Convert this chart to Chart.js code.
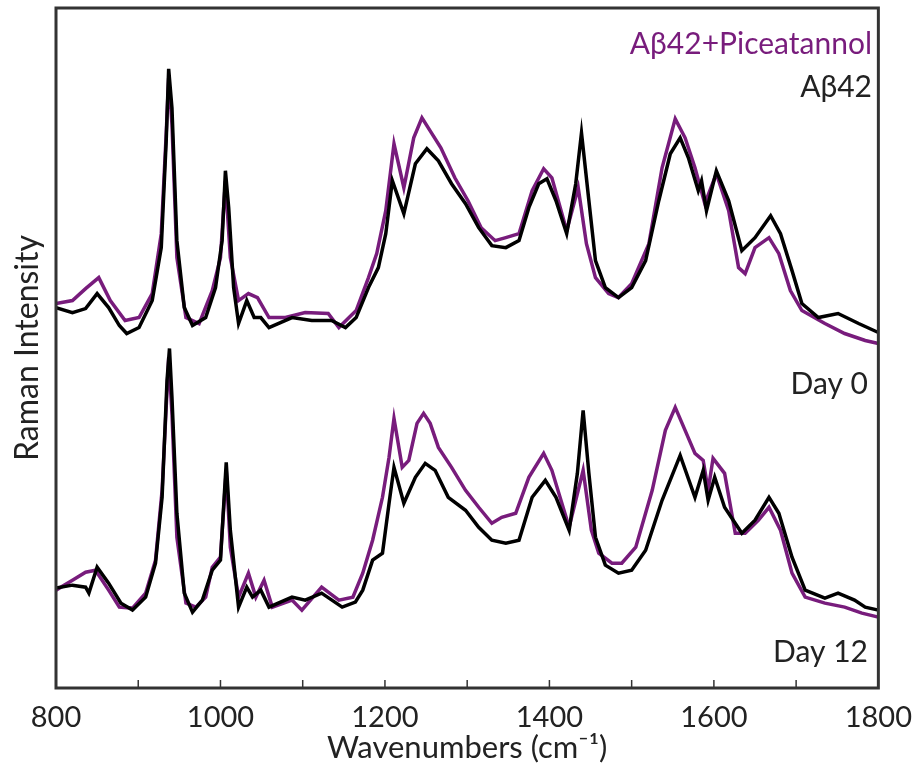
<!DOCTYPE html>
<html>
<head>
<meta charset="utf-8">
<script src="https://cdn.jsdelivr.net/npm/chart.js@4"></script>
<style>
  body { margin: 0; background: #fff; }
</style>
</head>
<body>
<canvas id="ramanChart" width="924" height="771"></canvas>
<script>
// wavenumber ticks (labels every 200, marks every 100)
const xMin = 800;
const xMax = 1800;
const tickStep = 100;

// Day 0, Aβ42 (black) - offset intensity
const day0AbWn = [800, 820, 836, 850, 864, 877, 886, 901, 917, 928, 934, 937, 941, 947, 956, 966, 982, 994, 1002, 1006, 1010, 1016, 1022, 1032, 1041, 1049, 1059, 1087, 1111, 1135, 1152, 1165, 1180, 1192, 1201, 1209, 1223, 1237, 1251, 1265, 1281, 1298, 1314, 1330, 1347, 1363, 1375, 1387, 1397, 1408, 1421, 1432, 1439, 1448, 1456, 1468, 1484, 1500, 1517, 1533, 1547, 1559, 1569, 1581, 1585, 1591, 1603, 1618, 1634, 1650, 1669, 1681, 1695, 1707, 1727, 1751, 1776, 1800];
const day0AbInt = [381, 376, 380, 395, 381, 363, 355, 361, 388, 441, 548, 620, 581, 448, 381, 363, 371, 401, 448, 518, 481, 401, 365, 388, 371, 371, 361, 371, 368, 368, 361, 371, 401, 421, 455, 508, 475, 525, 540, 528, 505, 485, 461, 443, 441, 448, 481, 505, 510, 488, 455, 505, 556, 488, 428, 401, 391, 401, 428, 488, 535, 551, 531, 498, 508, 478, 518, 488, 438, 451, 473, 455, 418, 385, 371, 375, 365, 356];

// Day 0, Aβ42+Piceatannol (purple)
const day0PiWn = [800, 820, 836, 852, 866, 884, 901, 917, 928, 934, 937, 941, 947, 958, 974, 990, 1000, 1006, 1012, 1022, 1034, 1045, 1059, 1079, 1103, 1131, 1144, 1165, 1180, 1190, 1201, 1211, 1223, 1235, 1245, 1255, 1268, 1285, 1301, 1317, 1334, 1347, 1363, 1379, 1393, 1403, 1421, 1435, 1445, 1456, 1472, 1484, 1500, 1521, 1537, 1553, 1565, 1577, 1589, 1603, 1618, 1630, 1638, 1650, 1667, 1679, 1693, 1707, 1735, 1759, 1784, 1800];
const day0PiInt = [385, 388, 400, 411, 388, 368, 371, 395, 455, 555, 611, 565, 431, 371, 365, 398, 431, 508, 431, 388, 395, 391, 371, 371, 376, 375, 361, 378, 411, 435, 478, 545, 501, 551, 571, 558, 541, 511, 488, 461, 448, 451, 455, 498, 520, 511, 458, 501, 445, 411, 395, 391, 405, 445, 521, 570, 551, 521, 485, 515, 478, 421, 415, 441, 451, 435, 398, 378, 365, 355, 348, 345];

// Day 12, Aβ42 (black)
const day12AbWn = [800, 820, 836, 840, 850, 864, 879, 893, 909, 921, 929, 935, 938, 941, 947, 956, 966, 978, 990, 1000, 1007, 1012, 1022, 1032, 1039, 1049, 1059, 1087, 1103, 1123, 1148, 1164, 1173, 1185, 1197, 1205, 1211, 1223, 1237, 1249, 1261, 1277, 1298, 1314, 1330, 1347, 1363, 1379, 1395, 1408, 1424, 1434, 1441, 1448, 1456, 1468, 1484, 1500, 1517, 1537, 1559, 1577, 1587, 1593, 1601, 1613, 1634, 1650, 1667, 1679, 1695, 1711, 1735, 1751, 1771, 1784, 1800];
const day12AbInt = [100, 103, 101, 95, 121, 105, 85, 78, 91, 125, 191, 308, 340, 291, 175, 95, 76, 88, 118, 128, 226, 158, 81, 101, 91, 98, 81, 91, 88, 95, 81, 86, 98, 128, 135, 185, 221, 185, 211, 225, 218, 191, 178, 161, 148, 145, 148, 191, 208, 191, 158, 215, 278, 215, 151, 123, 115, 118, 138, 188, 233, 191, 218, 188, 211, 181, 155, 168, 191, 175, 131, 98, 90, 95, 88, 81, 78];

// Day 12, Aβ42+Piceatannol (purple)
const day12PiWn = [800, 820, 836, 848, 864, 877, 893, 909, 921, 929, 937, 941, 947, 958, 970, 982, 990, 1000, 1007, 1012, 1022, 1034, 1043, 1053, 1063, 1087, 1099, 1123, 1144, 1161, 1173, 1185, 1197, 1205, 1211, 1221, 1229, 1239, 1247, 1255, 1265, 1281, 1298, 1314, 1330, 1342, 1359, 1375, 1393, 1403, 1424, 1441, 1451, 1460, 1476, 1488, 1505, 1525, 1541, 1553, 1565, 1577, 1587, 1593, 1599, 1613, 1626, 1638, 1654, 1667, 1681, 1695, 1711, 1735, 1759, 1780, 1800];
const day12PiInt = [98, 108, 116, 118, 98, 81, 80, 95, 128, 198, 331, 275, 151, 85, 81, 91, 121, 131, 218, 141, 91, 115, 91, 108, 81, 88, 78, 101, 88, 91, 115, 148, 191, 231, 270, 221, 228, 265, 275, 265, 241, 221, 198, 181, 165, 171, 175, 211, 235, 218, 161, 218, 158, 135, 125, 125, 141, 198, 258, 281, 258, 235, 228, 198, 230, 215, 155, 155, 168, 181, 158, 115, 91, 85, 81, 75, 71];

const purple = "#781c7c";
const black = "#000000";
const frameColor = "#333333";
const textFont = "Lato, 'Open Sans', sans-serif";

const toPoints = (wn, vals) => wn.map((w, i) => ({ x: w, y: vals[i] }));

const lineSet = (label, wn, vals, color) => ({
  label: label,
  data: toPoints(wn, vals),
  borderColor: color,
  backgroundColor: color,
  borderWidth: 3.5,
  pointRadius: 0,
  tension: 0,
  fill: false
});

// frame, inner tick marks and the text labels inside the plot
const framePlugin = {
  id: "frame",
  afterDraw(chart) {
    const { ctx, chartArea } = chart;
    const xScale = chart.scales.x;
    ctx.save();
    ctx.strokeStyle = frameColor;
    ctx.lineWidth = 3;
    ctx.strokeRect(chartArea.left, chartArea.top, chartArea.right - chartArea.left, chartArea.bottom - chartArea.top);
    ctx.lineWidth = 1.5;
    xScale.ticks.forEach((t) => {
      const px = xScale.getPixelForValue(t.value);
      if (px <= chartArea.left + 2 || px >= chartArea.right - 2) return;
      ctx.beginPath();
      ctx.moveTo(px, chartArea.bottom);
      ctx.lineTo(px, chartArea.bottom - 8);
      ctx.stroke();
    });

    ctx.font = "30px " + textFont;
    ctx.textAlign = "right";
    ctx.textBaseline = "alphabetic";
    ctx.fillStyle = purple;
    ctx.fillText("Aβ42+Piceatannol", 872, 54);
    ctx.fillStyle = "#222";
    ctx.fillText("Aβ42", 872, 97);
    ctx.fillText("Day 0", 868, 394);
    ctx.fillText("Day 12", 868, 662);
    ctx.restore();
  }
};

const ctx = document.getElementById("ramanChart").getContext("2d");
new Chart(ctx, {
  type: "line",
  data: {
    datasets: [
      lineSet("Aβ42 Day 0", day0AbWn, day0AbInt, black),
      lineSet("Aβ42 Day 12", day12AbWn, day12AbInt, black),
      lineSet("Aβ42+Piceatannol Day 0", day0PiWn, day0PiInt, purple),
      lineSet("Aβ42+Piceatannol Day 12", day12PiWn, day12PiInt, purple)
    ]
  },
  options: {
    responsive: false,
    animation: false,
    layout: { padding: { top: 8, right: 44, left: 0, bottom: 0 } },
    plugins: {
      legend: { display: false },
      tooltip: { enabled: false }
    },
    scales: {
      x: {
        type: "linear",
        min: xMin,
        max: xMax,
        grid: { display: false, drawTicks: false },
        border: { display: false },
        ticks: {
          stepSize: tickStep,
          autoSkip: false,
          maxRotation: 0,
          padding: 12,
          color: "#222",
          font: { family: textFont, size: 29 },
          callback: (v) => (v % 200 === 0 ? v : "")
        },
        title: {
          display: true,
          text: "Wavenumbers (cm⁻¹)",
          color: "#222",
          font: { family: textFont, size: 31 },
          padding: { top: 0, bottom: 4 }
        },
        afterFit: (scale) => { scale.height = 83; }
      },
      y: {
        min: 0,
        max: 681,
        grid: { display: false, drawTicks: false },
        border: { display: false },
        ticks: { display: false },
        title: {
          display: true,
          text: "Raman Intensity",
          color: "#222",
          font: { family: textFont, size: 32 },
          padding: { top: 8, bottom: 0 }
        },
        afterFit: (scale) => { scale.width = 56; }
      }
    }
  },
  plugins: [framePlugin]
});
</script>
</body>
</html>
